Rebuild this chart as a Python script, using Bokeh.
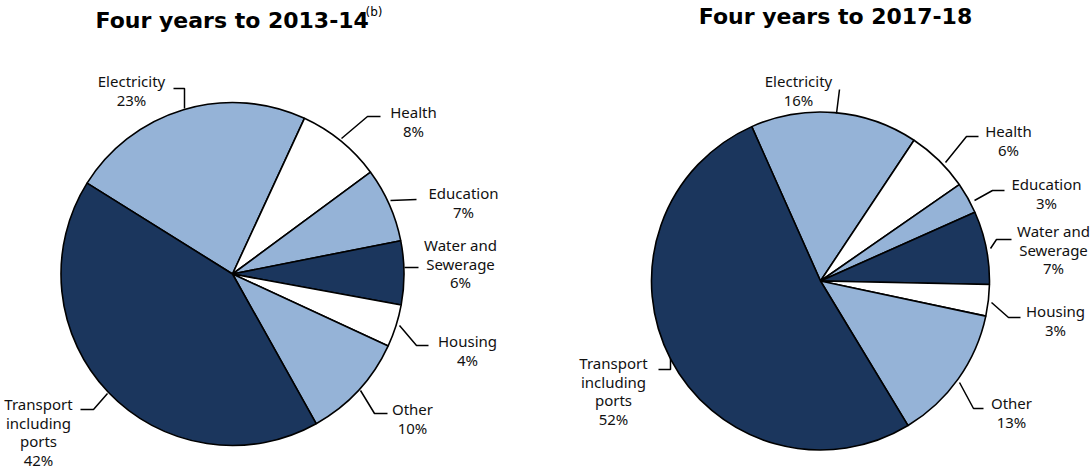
import numpy as np
from bokeh.plotting import figure
from bokeh.models import Range1d, ColumnDataSource
from bokeh.core.properties import value
from bokeh.embed import file_html
from bokeh.resources import INLINE

# ---------------- data ----------------
categories = ["Electricity", "Health", "Education", "Water and\nSewerage",
              "Housing", "Other", "Transport\nincluding\nports"]
share_2013_14 = [23, 8, 7, 6, 4, 10, 42]
share_2017_18 = [16, 6, 3, 7, 3, 13, 52]
titles = ["Four years to 2013-14", "Four years to 2017-18"]
title_note = "(b)"

# ---------------- style / layout ----------------
DARK = "#1b365d"
LIGHT = "#95b3d7"
WHITE = "#ffffff"
slice_colors = [LIGHT, WHITE, LIGHT, DARK, WHITE, LIGHT, DARK]

W, H = 1092, 470
LABEL_SHIFT = 6.5   # baseline correction for label text (px)
TITLE_SHIFT = 7.5   # baseline correction for title text (px)


def X(xs):
    return xs


def Y(ys):
    return H - ys


p = figure(width=W, height=H, x_range=Range1d(0, W), y_range=Range1d(0, H),
           output_backend="svg", toolbar_location=None, min_border=0)
p.axis.visible = False
p.grid.visible = False
p.outline_line_color = None
p.background_fill_color = "white"
p.border_fill_color = "white"

pies = [
    dict(values=share_2013_14, cx=232, cy=273.5, r=171.5, start=148.0,
         labels=[(131, 87), (413, 118), (463, 199), (460, 251), (467, 347), (412, 415), (38, 410)],
         leaders=[[(173, 88), (184, 88), (184, 108)],
                  [(380, 116), (367, 116), (341, 138)],
                  [(416, 199), (390, 200)],
                  [(418, 267), (404, 267)],
                  [(428, 345), (416, 345), (399, 325)],
                  [(387, 413), (374, 413), (360, 390)],
                  [(80, 409), (93, 409), (107, 393)]]),
    dict(values=share_2017_18, cx=820, cy=280.5, r=169, start=114.0,
         labels=[(798, 87), (1008, 137), (1046, 190), (1053, 237), (1055, 317), (1011, 409), (613, 369)],
         leaders=[[(839, 89), (836, 113)],
                  [(978, 136), (966, 136), (945, 162)],
                  [(1004, 190), (992, 190), (974, 200)],
                  [(1011, 239), (996, 239), (990, 248)],
                  [(1020, 317), (1008, 317), (991, 302)],
                  [(983, 408), (973, 408), (959, 382)],
                  [(658, 369), (670, 369), (670, 358)]]),
]

LINE_H = 18.5
label_font = value("Noto Sans")

for pie in pies:
    vals = np.array(pie["values"], dtype=float)
    frac = vals / vals.sum()
    cum_after = np.cumsum(frac)
    cum_before = cum_after - frac
    off = np.deg2rad(pie["start"])
    start = off - 2 * np.pi * cum_after
    end = off - 2 * np.pi * cum_before
    src = ColumnDataSource(dict(start=start, end=end, color=slice_colors,
                                cat=categories, val=pie["values"]))
    p.wedge(x=X(pie["cx"]), y=Y(pie["cy"]), radius=pie["r"],
            start_angle="start", end_angle="end", direction="anticlock",
            fill_color="color", line_color="black", line_width=1.6, source=src)

    # leader lines
    xs = [[X(a) for a, b in seg] for seg in pie["leaders"]]
    ys = [[Y(b) for a, b in seg] for seg in pie["leaders"]]
    p.multi_line(xs=xs, ys=ys, line_color="black", line_width=1.5)

    # labels
    tx, ty, tt = [], [], []
    for cat, v, (lx, ly) in zip(categories, pie["values"], pie["labels"]):
        lines = cat.split("\n") + [f"{v}%"]
        for k, ln in enumerate(lines):
            tx.append(X(lx))
            ty.append(Y(ly + k * LINE_H - LABEL_SHIFT))
            tt.append(ln)
    p.text(x=tx, y=ty, text=tt, text_align="center", text_baseline="alphabetic",
           text_font=label_font, text_font_size="15px", text_color="#111111")

# titles
p.text(x=[X(95)], y=[Y(27 - TITLE_SHIFT)], text=[titles[0]], text_align="left",
       text_baseline="alphabetic", text_font=value("DejaVu Sans"),
       text_font_style="bold", text_font_size="22px", text_color="black")
p.text(x=[X(365)], y=[Y(16 - 4.5)], text=[title_note], text_align="left",
       text_baseline="alphabetic", text_font=value("DejaVu Sans"),
       text_font_size="12px", text_color="black")
p.text(x=[X(835)], y=[Y(23 - TITLE_SHIFT)], text=[titles[1]], text_align="center",
       text_baseline="alphabetic", text_font=value("DejaVu Sans"),
       text_font_style="bold", text_font_size="22px", text_color="black")

open("out.html", "w").write(file_html(p, INLINE))
